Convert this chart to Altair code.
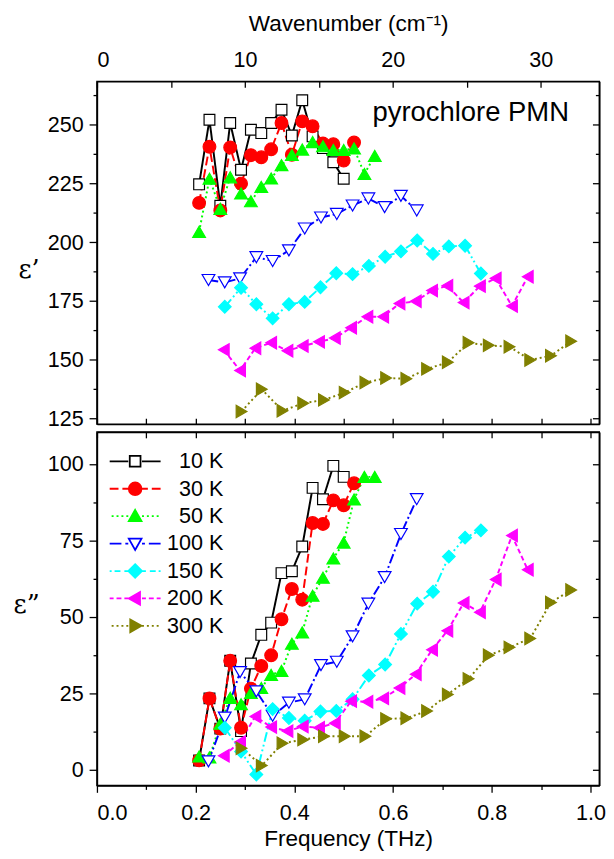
import altair as alt
import pandas as pd

FONT = "Liberation Sans"

TEMPS = ["10 K", "30 K", "50 K", "100 K", "150 K", "200 K", "300 K"]

# ---- data: frequency (THz), eps' and eps'' ----
f_10 = [0.207, 0.228, 0.250, 0.270, 0.292, 0.312, 0.333, 0.353, 0.374, 0.395, 0.416, 0.437, 0.458, 0.479, 0.500]
e1_10 = [224.6, 252.1, 215.5, 250.7, 230.8, 247.8, 246.4, 250.7, 256.3, 245.4, 260.4, 245.0, 240.0, 234.0, 227.0]
e2_10 = [3.0, 23.3, 13.4, 35.6, 12.6, 34.7, 44.1, 48.1, 64.3, 64.9, 73.0, 92.2, 88.5, 99.4, 95.8]

f_30 = [0.207, 0.228, 0.250, 0.270, 0.292, 0.312, 0.333, 0.353, 0.374, 0.395, 0.416, 0.437, 0.458, 0.479, 0.500, 0.521]
e1_30 = [216.7, 240.6, 213.5, 240.3, 224.9, 237.0, 236.1, 239.5, 250.7, 237.2, 251.4, 249.3, 242.0, 241.7, 234.7, 242.4]
e2_30 = [3.0, 23.3, 13.4, 35.6, 13.7, 26.5, 33.9, 37.4, 49.2, 59.1, 55.6, 80.7, 80.4, 88.1, 86.5, 93.7]

f_50 = [0.207, 0.228, 0.250, 0.270, 0.292, 0.312, 0.333, 0.353, 0.374, 0.395, 0.416, 0.437, 0.458, 0.479, 0.500, 0.521, 0.542, 0.563]
e1_50 = [204.4, 227.0, 214.2, 227.6, 220.7, 217.4, 223.5, 227.1, 232.8, 237.1, 239.4, 242.6, 240.8, 239.2, 239.2, 239.9, 229.0, 236.7]
e2_50 = [4.3, 4.0, 15.0, 23.5, 21.4, 25.1, 26.7, 31.0, 32.3, 41.2, 44.9, 56.9, 62.8, 69.1, 74.3, 88.4, 95.8, 95.8]

f_100 = [0.226, 0.259, 0.290, 0.323, 0.356, 0.389, 0.421, 0.454, 0.486, 0.518, 0.550, 0.583, 0.616, 0.648]
e1_100 = [183.9, 182.9, 184.6, 193.6, 192.0, 196.5, 205.8, 210.5, 212.0, 215.6, 218.6, 214.9, 219.7, 213.5]
e2_100 = [2.7, 17.0, 31.9, 25.6, 17.6, 21.9, 23.0, 34.2, 35.3, 43.6, 54.3, 63.0, 77.1, 88.5]

f_150 = [0.259, 0.292, 0.323, 0.356, 0.389, 0.421, 0.453, 0.485, 0.518, 0.551, 0.584, 0.616, 0.649, 0.681, 0.713, 0.746, 0.778]
e1_150 = [172.5, 180.6, 173.6, 167.6, 173.6, 174.6, 180.8, 186.8, 186.4, 189.9, 193.8, 196.1, 200.7, 195.0, 198.2, 198.5, 186.7]
e2_150 = [13.7, 5.9, -1.6, 19.8, 16.9, 16.0, 19.0, 19.2, 23.0, 30.8, 34.4, 44.4, 54.3, 58.2, 69.7, 75.9, 78.3]

f_200 = [0.257, 0.290, 0.321, 0.353, 0.386, 0.417, 0.450, 0.482, 0.515, 0.548, 0.580, 0.613, 0.646, 0.679, 0.710, 0.743, 0.776, 0.808, 0.841, 0.873]
e1_200 = [154.2, 145.4, 154.9, 157.2, 153.8, 155.8, 157.6, 159.2, 163.6, 168.3, 168.3, 173.9, 174.9, 179.4, 181.5, 174.3, 181.3, 184.6, 172.8, 185.3]
e2_200 = [4.5, 9.0, 17.4, 13.9, 12.6, 14.1, 13.7, 15.2, 22.4, 22.2, 23.3, 26.7, 31.2, 39.2, 45.4, 54.5, 51.5, 62.2, 76.6, 65.4]

f_300 = [0.293, 0.334, 0.376, 0.418, 0.460, 0.502, 0.544, 0.586, 0.627, 0.669, 0.711, 0.753, 0.794, 0.836, 0.878, 0.920, 0.961]
e1_300 = [128.0, 137.4, 128.3, 131.5, 132.9, 136.0, 140.3, 142.2, 141.9, 146.1, 148.9, 157.2, 156.1, 155.5, 149.9, 151.7, 157.9]
e2_300 = [7.0, 1.3, 8.6, 9.8, 10.9, 10.9, 10.9, 16.6, 16.8, 19.2, 24.6, 29.7, 37.4, 40.0, 42.9, 54.7, 58.8]

X_TICKS = [0.0, 0.1, 0.2, 0.3, 0.4, 0.5, 0.6, 0.7, 0.8, 0.9, 1.0]
WN_TICKS = [0, 5, 10, 15, 20, 25, 30]          # cm^-1
THZ_TO_WN = 33.356
Y1_TICKS = [125, 137.5, 150, 162.5, 175, 187.5, 200, 212.5, 225, 237.5, 250, 262.5]
Y2_TICKS = [0, 12.5, 25, 37.5, 50, 62.5, 75, 87.5, 100]
ANNOT = "pyrochlore PMN"

# ---- styles ----
COLORS = ["#000000", "#ff0000", "#00ff00", "#0000ff", "#00ffff", "#ff00ff", "#808000"]
FILLS = ["#ffffff", "#ff0000", "#00ff00", "#ffffff", "#00ffff", "#ff00ff", "#808000"]
SHAPES = ["square", "circle", "triangle-up", "triangle-down", "diamond", "triangle-left", "triangle-right"]
SIZES = [121, 169, 169, 169, 169, 160, 160]
DASHES = [[1, 0], [9, 4], [2, 3], [10, 3, 2, 3], [10, 3, 2, 3, 2, 3], [5, 3], [2, 3]]

# legend symbols: line pattern + marker as one path (1 unit = 5 px)
MARKS = [
    "M-1.1,-1.1H1.1V1.1H-1.1Z",
    "M-1.3,0A1.3,1.3 0 1,0 1.3,0A1.3,1.3 0 1,0 -1.3,0Z",
    "M0,-1.3L1.3,1.0L-1.3,1.0Z",
    "M0,1.3L1.3,-1.0L-1.3,-1.0Z",
    "M0,-1.4L1.4,0L0,1.4L-1.4,0Z",
    "M-1.3,0L1.0,-1.3L1.0,1.3Z",
    "M1.3,0L-1.0,-1.3L-1.0,1.3Z",
]
SEGS = [
    [(7, 26)],
    [(7, 13), (17, 26)],
    [(7, 9), (12, 14), (17, 19), (22, 24)],
    [(7, 10), (14, 26)],
    [(7, 11), (15, 21), (24, 26)],
    [(7, 11), (14, 19), (22, 26)],
    [(7, 9), (12, 14), (17, 19), (22, 24)],
]


def seg_path(segs):
    out = ""
    for a, b in segs:
        out += f"M{-b/5:.2f},0H{-a/5:.2f}M{a/5:.2f},0H{b/5:.2f}"
    return out


LEG_PATHS = [seg_path(s) + m for s, m in zip(SEGS, MARKS)]

series = [
    ("10 K", f_10, e1_10, e2_10),
    ("30 K", f_30, e1_30, e2_30),
    ("50 K", f_50, e1_50, e2_50),
    ("100 K", f_100, e1_100, e2_100),
    ("150 K", f_150, e1_150, e2_150),
    ("200 K", f_200, e1_200, e2_200),
    ("300 K", f_300, e1_300, e2_300),
]
rows = []
for t, fs, a, b in series:
    for fi, ai, bi in zip(fs, a, b):
        rows.append({"T": t, "f": fi, "e1": ai, "e2": bi})
df = pd.DataFrame(rows)
df["sz"] = df["T"].map(dict(zip(TEMPS, SIZES)))

base = alt.Chart(df)
W = 513
XS = alt.Scale(domain=[0, 1.018], nice=False, zero=False)
X_MAJOR = "round(datum.value*10) % 2 == 0"


def cond(test, major, minor):
    return {"condition": {"test": test, "value": major}, "value": minor}


def panel(ycol, ydomain, yvals, title, title_y, height, xtop, xbottom, legend):
    ys = alt.Scale(domain=ydomain, nice=False, zero=False)
    ymaj = "datum.value % 25 == 0"
    left = alt.Axis(orient="left", values=yvals, labelExpr=f"{ymaj} ? datum.label : ''",
                    tickSize=cond(ymaj, 8, 4), title=title, titleAngle=0,
                    titleFont="DejaVu Serif", titleFontSize=26, titleX=-59, titleY=title_y,
                    titleAlign="right", titleBaseline="middle", labelPadding=6)
    right = alt.Axis(orient="right", values=yvals, labels=False, title=None,
                     tickSize=cond(ymaj, -7, -4))
    lines = base.mark_line(strokeWidth=2).encode(
        x=alt.X("f:Q", scale=XS, axis=xbottom),
        y=alt.Y(f"{ycol}:Q", scale=ys, axis=left),
        color=alt.Color("T:N", scale=alt.Scale(domain=TEMPS, range=COLORS), legend=None),
        strokeDash=alt.StrokeDash("T:N", scale=alt.Scale(domain=TEMPS, range=DASHES), legend=None),
    )
    pts = base.mark_point(opacity=1, strokeWidth=1.2).encode(
        x=alt.X("f:Q", scale=XS, axis=xtop),
        y=alt.Y(f"{ycol}:Q", scale=ys, axis=right),
        shape=alt.Shape("T:N", scale=alt.Scale(domain=TEMPS, range=SHAPES), legend=None),
        fill=alt.Fill("T:N", scale=alt.Scale(domain=TEMPS, range=FILLS), legend=None),
        stroke=alt.Stroke("T:N", scale=alt.Scale(domain=TEMPS, range=COLORS), legend=None),
        size=alt.Size("sz:Q", scale=None),
    )
    layers = [lines, pts]
    if legend:
        leg = alt.Legend(title=None, orient="none", legendX=28, legendY=19, labelFont=FONT,
                         labelFontSize=22, labelColor="black", labelAlign="right", labelOffset=79,
                         labelLimit=300, symbolSize=100, symbolStrokeWidth=1.8, rowPadding=6.0,
                         padding=0, symbolOpacity=1)
        legl = base.transform_filter("false").mark_point(opacity=1).encode(
            shape=alt.Shape("T:N", scale=alt.Scale(domain=TEMPS, range=LEG_PATHS), legend=leg),
            fill=alt.Fill("T:N", scale=alt.Scale(domain=TEMPS, range=FILLS), legend=leg),
            stroke=alt.Stroke("T:N", scale=alt.Scale(domain=TEMPS, range=COLORS), legend=leg),
        )
        layers.append(legl)
    else:
        txt = alt.Chart(pd.DataFrame({"label": [ANNOT]})).mark_text(
            align="right", baseline="middle", font=FONT, fontSize=28, color="black"
        ).encode(text="label:N", x=alt.value(482), y=alt.value(32))
        layers.append(txt)
    return alt.layer(*layers).resolve_axis(x="independent", y="independent").resolve_scale(
        shape="independent", fill="independent", stroke="independent"
    ).properties(width=W, height=height)


top_axis = alt.Axis(orient="top", values=[w / THZ_TO_WN for w in WN_TICKS],
                    labelExpr=f"round(datum.value*{THZ_TO_WN}) % 10 == 0 ? format(round(datum.value*{THZ_TO_WN}), 'd') : ''",
                    tickSize=cond("true", -6, -6), title="Wavenumber (cm⁻¹)", labelPadding=16, titlePadding=14)
top_bottom_axis = alt.Axis(orient="bottom", values=X_TICKS, labels=False, title=None,
                           tickSize=cond(X_MAJOR, -6, -6))
bot_top_axis = alt.Axis(orient="top", values=X_TICKS, labels=False, title=None,
                        tickSize=cond(X_MAJOR, -6, -6))
bot_bottom_axis = alt.Axis(orient="bottom", values=X_TICKS,
                           labelExpr=f"{X_MAJOR} ? format(datum.value, '.1f') : ''",
                           tickSize=cond(X_MAJOR, 7, 4), title="Frequency (THz)",
                           labelPadding=11, titlePadding=4)

top = panel("e1", [122.6, 268.4], Y1_TICKS, "ε’", 192, 350, top_axis, top_bottom_axis, False)
bottom = panel("e2", [-5.2, 110.5], Y2_TICKS, "ε”", 176, 361, bot_top_axis, bot_bottom_axis, True)

chart = alt.vconcat(top, bottom, spacing=0).resolve_scale(
    color="independent", strokeDash="independent", shape="independent",
    fill="independent", stroke="independent"
).properties(
    padding={"left": 12, "top": 3, "right": 8, "bottom": 0}
).configure_view(stroke="black", strokeWidth=1.5).configure_axis(
    labelFont=FONT, labelFontSize=22, labelColor="black", titleFont=FONT, titleFontSize=23,
    titleColor="black", titleFontWeight="normal", tickColor="black", domainColor="black",
    tickWidth=1.3, domainWidth=1.5, grid=False
)

chart.save("out.html", embed_options={"renderer": "svg", "actions": False})
